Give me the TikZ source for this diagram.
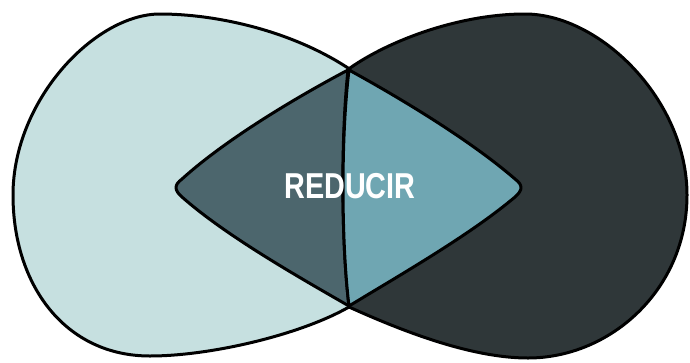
\documentclass[tikz,border=0pt]{standalone}
\usepackage{fontspec}
\setmainfont{Liberation Sans}
\definecolor{lightc}{RGB}{198,224,224}
\definecolor{darkc}{RGB}{47,55,57}
\definecolor{lensl}{RGB}{76,102,109}
\definecolor{lensr}{RGB}{111,166,178}
\begin{document}
\begin{tikzpicture}[x=1pt,y=-1pt,
  outl/.style={draw=black,line width=3pt,line join=round},
  lbl/.style={text=white,font=\bfseries\fontsize{36}{40}\selectfont,inner sep=0pt}]
\useasboundingbox (0,0) rectangle (690,362);
% left teardrop
\path[outl,fill=lightc] (348,68) .. controls (290,30) and (215,14) .. (160,14)
  .. controls (95,14) and (13,100) .. (13,195)
  .. controls (13,285) and (65,356) .. (150,356)
  .. controls (210,356) and (300,335) .. (349,307) -- cycle;
% right teardrop
\path[outl,fill=darkc] (350,68) .. controls (390,40) and (460,14) .. (525,14)
  .. controls (600,14) and (687,100) .. (687,195)
  .. controls (687,290) and (610,358) .. (528,358)
  .. controls (470,358) and (400,330) .. (349,307) -- cycle;
% lens left half
\path[outl,fill=lensl] (348,70) .. controls (295,98) and (225,140) .. (182,179)
  .. controls (174,185) and (174,190) .. (182,197)
  .. controls (225,235) and (295,275) .. (349,306)
  .. controls (341,240) and (341,135) .. (348,70) -- cycle;
% lens right half
\path[outl,fill=lensr] (349,70) .. controls (400,98) and (470,140) .. (515,179)
  .. controls (523,185) and (523,190) .. (515,197)
  .. controls (470,235) and (400,275) .. (349,306)
  .. controls (341,240) and (341,135) .. (349,70) -- cycle;
\node[lbl] (reducir) at (350,186) {\scalebox{0.8}[1]{REDUCIR}};
\end{tikzpicture}
\end{document}
